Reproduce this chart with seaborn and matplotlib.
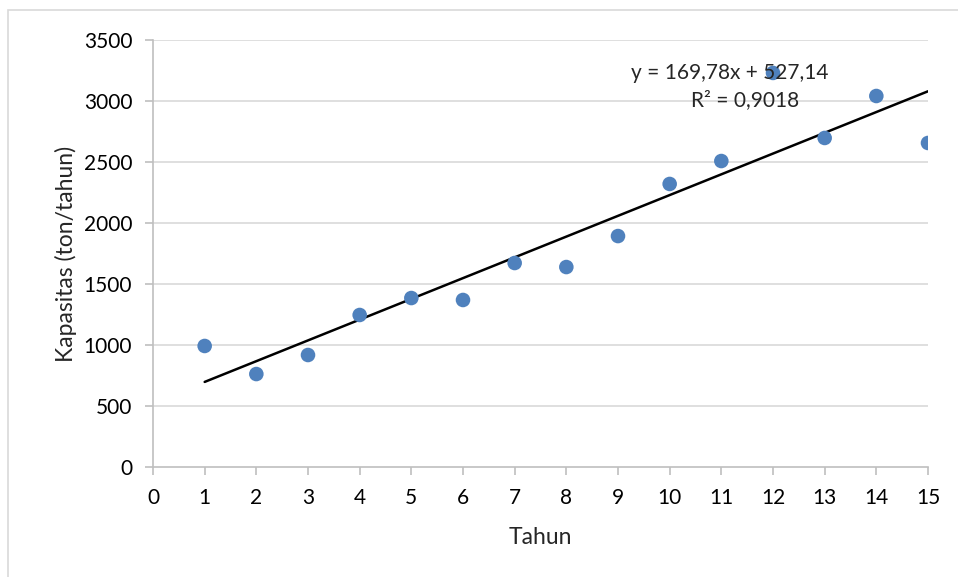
import numpy as np
import pandas as pd
import matplotlib
matplotlib.use("Agg")
import matplotlib.pyplot as plt
import seaborn as sns
from matplotlib.patches import Rectangle

# data
tahun = [1, 2, 3, 4, 5, 6, 7, 8, 9, 10, 11, 12, 13, 14, 15]
kapasitas = [992, 762, 918, 1246, 1385, 1369, 1672, 1639, 1893, 2320, 2508, 3230, 2697, 3041, 2656]
eq_text = "y = 169,78x + 527,14"
r2_text = "R² = 0,9018"

df = pd.DataFrame({"Tahun": tahun, "Kapasitas": kapasitas})

sns.set_style("white")
plt.rcParams["font.family"] = ["Lato", "DejaVu Sans"]

fig = plt.figure(figsize=(9.58, 5.77), dpi=100)
ax = fig.add_axes([153 / 958, 1 - 467 / 577, 775 / 958, 427 / 577])

# outer chart border
fig.patches.append(Rectangle((8 / 958, -0.05), 1.1, 1 - 10 / 577 + 0.05,
                             transform=fig.transFigure, fill=False,
                             edgecolor="#D9D9D9", linewidth=1.2))

for yv in range(500, 3501, 500):
    ax.axhline(yv, color="#D9D9D9", linewidth=1.2, zorder=0)

sns.regplot(data=df, x="Tahun", y="Kapasitas", scatter=False, ci=None,
            color="black", line_kws={"linewidth": 1.8, "zorder": 2}, ax=ax)
sns.scatterplot(data=df, x="Tahun", y="Kapasitas", s=110, color="#4F81BD",
                edgecolor="none", zorder=3, ax=ax)

ax.text(11.17, 3230, eq_text, ha="center", va="center", fontsize=15, zorder=4)
ax.text(11.46, 3008, r2_text, ha="center", va="center", fontsize=15, zorder=4)

ax.set_xlim(0, 15)
ax.set_ylim(0, 3500)
ax.set_xticks(range(0, 16))
ax.set_yticks(range(0, 3501, 500))
ax.tick_params(axis="both", labelsize=15, colors="#BFBFBF", labelcolor="black",
               length=6, width=1.2, direction="out", bottom=True, left=True)
ax.tick_params(axis="x", pad=9)
ax.tick_params(axis="y", pad=9)

for side in ["top", "right"]:
    ax.spines[side].set_visible(False)
for side in ["left", "bottom"]:
    ax.spines[side].set_color("#BFBFBF")
    ax.spines[side].set_linewidth(1.2)

ax.set_xlabel("Tahun", fontsize=16.5, labelpad=14)
ax.set_ylabel("Kapasitas (ton/tahun)", fontsize=16.5, labelpad=5)

fig.savefig("out.png", dpi=100)
